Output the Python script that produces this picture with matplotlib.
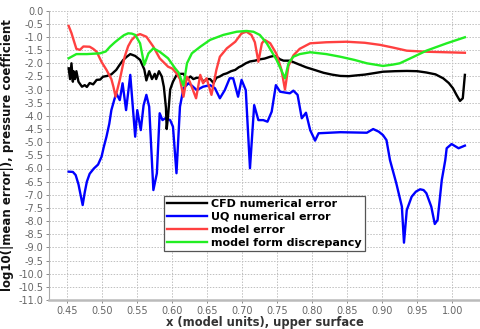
import matplotlib
matplotlib.use("Agg")
import matplotlib.pyplot as plt
import numpy as np

# CFD numerical error
cfd_x = [0.452, 0.454, 0.456, 0.458, 0.459, 0.461, 0.463, 0.466, 0.471, 0.475,
         0.478, 0.482, 0.487, 0.492, 0.497, 0.501, 0.507, 0.513, 0.520, 0.525,
         0.530, 0.535, 0.540, 0.547, 0.554, 0.560, 0.563, 0.567, 0.571, 0.575,
         0.577, 0.581, 0.585, 0.588, 0.591, 0.592, 0.594, 0.597, 0.601, 0.606,
         0.612, 0.616, 0.621, 0.626, 0.630, 0.635, 0.640, 0.645, 0.649, 0.654,
         0.659, 0.663, 0.668, 0.673, 0.678, 0.684, 0.690, 0.695, 0.699, 0.705,
         0.711, 0.718, 0.725, 0.732, 0.740, 0.745, 0.749, 0.754, 0.759, 0.768,
         0.777, 0.791, 0.803, 0.816, 0.828, 0.840, 0.852, 0.863, 0.875, 0.887,
         0.901, 0.918, 0.935, 0.950, 0.963, 0.976, 0.987, 0.995, 1.001, 1.006,
         1.011, 1.015, 1.018]
cfd_y = [-2.19, -2.6, -2.0, -2.7, -2.3, -2.6, -2.3, -2.7, -2.89, -2.83,
         -2.9, -2.75, -2.8, -2.63, -2.62, -2.51, -2.48, -2.42, -2.25, -2.05,
         -1.87, -1.75, -1.65, -1.72, -1.87, -2.23, -2.65, -2.3, -2.6, -2.4,
         -2.6, -2.3, -2.5, -2.9, -3.7, -4.5, -4.0, -3.0, -2.7, -2.45,
         -2.4, -2.4, -2.6, -2.5, -2.6, -2.55, -2.55, -2.7, -2.6, -2.6,
         -2.75, -2.55, -2.5, -2.42, -2.38, -2.3, -2.25, -2.15, -2.1, -2.0,
         -1.93, -1.9, -1.85, -1.82, -1.75, -1.72, -1.75, -1.85, -1.9, -1.9,
         -2.0, -2.15, -2.25, -2.36, -2.43, -2.48, -2.49, -2.46, -2.43, -2.38,
         -2.32, -2.3, -2.29, -2.3, -2.35, -2.42, -2.57, -2.75, -2.95, -3.2,
         -3.43, -3.33, -2.44]

# UQ numerical error
uq_x = [0.452, 0.458, 0.462, 0.466, 0.469, 0.472, 0.475, 0.478, 0.482, 0.488,
        0.494, 0.499, 0.502, 0.506, 0.510, 0.513, 0.517, 0.520, 0.525, 0.529,
        0.534, 0.540, 0.547, 0.550, 0.555, 0.559, 0.563, 0.567, 0.573, 0.578,
        0.582, 0.586, 0.590, 0.597, 0.601, 0.606, 0.611, 0.616, 0.623, 0.628,
        0.635, 0.644, 0.654, 0.661, 0.668, 0.675, 0.682, 0.687, 0.694, 0.699,
        0.705, 0.711, 0.717, 0.723, 0.730, 0.736, 0.742, 0.748, 0.754, 0.763,
        0.768, 0.773, 0.779, 0.785, 0.791, 0.797, 0.804, 0.809, 0.840, 0.878,
        0.887, 0.895, 0.901, 0.906, 0.911, 0.920, 0.928, 0.931, 0.935, 0.942,
        0.948, 0.954, 0.959, 0.963, 0.970, 0.975, 0.979, 0.985, 0.990, 0.992,
        0.999, 1.004, 1.009, 1.018]
uq_y = [-6.12, -6.13, -6.25, -6.6, -7.0, -7.39, -6.9, -6.5, -6.2, -6.0,
        -5.85, -5.55, -5.2, -4.79, -4.3, -3.78, -3.4, -3.14, -3.4, -2.76,
        -3.78, -2.44, -4.79, -3.78, -4.54, -3.6, -3.2, -3.65, -6.82, -6.18,
        -3.9, -4.16, -4.09, -4.16, -4.41, -6.18, -3.65, -2.95, -2.76, -2.85,
        -3.02, -2.89, -2.83, -2.95, -3.33, -3.02, -2.57, -2.57, -3.27, -2.63,
        -3.02, -5.99, -3.59, -4.16, -4.16, -4.22, -3.84, -2.83, -3.08, -3.12,
        -3.14, -3.04, -3.2, -4.09, -3.88, -4.54, -4.94, -4.66, -4.62, -4.64,
        -4.5, -4.6, -4.73, -4.92, -5.68, -6.56, -7.45, -8.82, -7.58, -7.07,
        -6.88, -6.79, -6.82, -6.94, -7.45, -8.11, -7.96, -6.44, -5.68, -5.23,
        -5.07, -5.15, -5.23, -5.13]

# model error
model_x = [0.452, 0.456, 0.459, 0.463, 0.468, 0.473, 0.482, 0.487, 0.492, 0.499,
           0.506, 0.513, 0.516, 0.519, 0.525, 0.532, 0.537, 0.542, 0.548, 0.554,
           0.563, 0.573, 0.582, 0.594, 0.600, 0.606, 0.611, 0.616, 0.621, 0.625,
           0.634, 0.640, 0.644, 0.649, 0.656, 0.663, 0.668, 0.678, 0.690, 0.699,
           0.706, 0.713, 0.718, 0.723, 0.728, 0.732, 0.740, 0.749, 0.756, 0.761,
           0.766, 0.773, 0.782, 0.797, 0.820, 0.849, 0.875, 0.897, 0.915, 0.935,
           0.963, 1.018]
model_y = [-0.58, -0.85, -1.11, -1.45, -1.49, -1.36, -1.37, -1.45, -1.56, -1.95,
           -2.25, -2.6, -2.9, -3.27, -2.63, -1.75, -1.35, -1.11, -0.95, -0.89,
           -0.99, -1.37, -1.81, -2.13, -2.2, -2.38, -2.6, -3.27, -2.51, -2.7,
           -3.33, -2.44, -2.76, -2.57, -3.2, -2.25, -1.75, -1.43, -1.18, -0.86,
           -0.8, -0.92, -1.2, -1.94, -1.24, -1.11, -1.24, -1.65, -2.25, -3.0,
           -2.1, -1.7, -1.45, -1.24, -1.2, -1.18, -1.22, -1.3, -1.4, -1.52,
           -1.56, -1.6]

# model form discrepancy
form_x = [0.452, 0.463, 0.478, 0.497, 0.505, 0.511, 0.518, 0.525, 0.531, 0.537,
          0.542, 0.547, 0.554, 0.560, 0.566, 0.573, 0.582, 0.594, 0.604, 0.609,
          0.616, 0.621, 0.628, 0.640, 0.654, 0.673, 0.692, 0.706, 0.716, 0.725,
          0.735, 0.749, 0.761, 0.766, 0.773, 0.782, 0.797, 0.820, 0.840, 0.860,
          0.878, 0.901, 0.915, 0.925, 0.945, 0.963, 0.992, 1.018]
form_y = [-1.81, -1.65, -1.65, -1.62, -1.55, -1.37, -1.2, -1.05, -0.93, -0.86,
          -0.87, -0.92, -1.24, -2.06, -1.62, -1.43, -1.56, -1.81, -2.19, -2.35,
          -2.85, -2.0, -1.62, -1.37, -1.11, -0.92, -0.8, -0.77, -0.8, -0.92,
          -1.24, -1.87, -2.57, -2.0, -1.75, -1.65, -1.58, -1.65, -1.75, -1.87,
          -2.0, -2.1, -2.05, -2.0, -1.75, -1.52, -1.24, -1.01]


def main() -> None:
    fig = plt.figure(figsize=(4.8, 3.29), dpi=100)
    ax = fig.add_axes([49 / 480, 1 - 300 / 329, 431 / 480, 289.3 / 329])

    lw = 1.7
    ax.plot(cfd_x, cfd_y, color='black', lw=lw, label="CFD numerical error", zorder=3)
    ax.plot(uq_x, uq_y, color='#0000ff', lw=lw, label="UQ numerical error", zorder=2)
    ax.plot(model_x, model_y, color='#ff4040', lw=lw, label="model error", zorder=4)
    ax.plot(form_x, form_y, color='#22ee22', lw=lw, label="model form discrepancy", zorder=5)

    ax.set_xlim(0.4239, 1.0396)
    ax.set_ylim(-11.0, 0.0)
    ax.set_xticks(np.arange(0.45, 1.001, 0.05))
    ax.set_yticks(np.arange(-11.0, 0.01, 0.5))
    ax.xaxis.set_major_formatter(matplotlib.ticker.FormatStrFormatter('%.2f'))
    ax.yaxis.set_major_formatter(matplotlib.ticker.FormatStrFormatter('%.1f'))
    ax.tick_params(axis='both', labelsize=7, colors='#777777', length=2, width=0.6,
                   labelcolor='#666666', pad=2)

    ax.grid(True, color='#c0c0c0', linestyle=(0, (1.5, 1.5)), linewidth=0.7)
    ax.set_axisbelow(True)
    for side in ('top', 'right'):
        ax.spines[side].set_visible(False)
    ax.spines['left'].set_color('#aaaaaa')
    ax.spines['bottom'].set_color('#bbbbbb')
    ax.spines['bottom'].set_linewidth(1.8)

    ax.set_xlabel('x (model units), upper surface', fontsize=8.3, fontweight='bold',
                  color='#333333', labelpad=0)
    ax.set_ylabel('log10(|mean error|), pressure coefficient', fontsize=8.5,
                  fontweight='bold', color='#111111', labelpad=3)

    leg = ax.legend(loc='upper left', bbox_to_anchor=(0.267, 0.36),
                    prop={'weight': 'bold', 'size': 8}, frameon=True, fancybox=False,
                    handlelength=3.6, handletextpad=0.3, labelspacing=0.25,
                    borderpad=0.3, borderaxespad=0.0)
    leg.get_frame().set_edgecolor('#555555')
    leg.get_frame().set_linewidth(0.9)
    leg.get_frame().set_alpha(1.0)

    fig.savefig('out.png', dpi=100)


if __name__ == "__main__":
    main()
